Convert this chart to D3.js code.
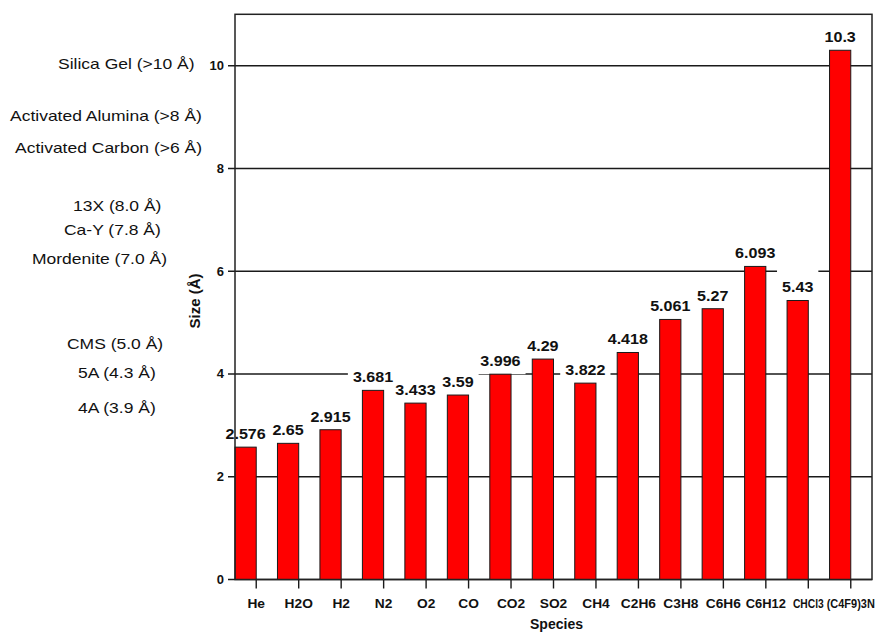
<!DOCTYPE html>
<html><head><meta charset="utf-8">
<script src="https://cdn.jsdelivr.net/npm/d3@7"></script>
<style>body{margin:0;background:#fff}svg{display:block}</style>
</head><body>
<svg id="chart" width="880" height="633"></svg>
<script>
// ---- data ----
const species = ["He","H2O","H2","N2","O2","CO","CO2","SO2","CH4","C2H6","C3H8","C6H6","C6H12","CHCl3","(C4F9)3N"];
const sizes = [2.576,2.65,2.915,3.681,3.433,3.59,3.996,4.29,3.822,4.418,5.061,5.27,6.093,5.43,10.3];
const sizeLabels = ["2.576","2.65","2.915","3.681","3.433","3.59","3.996","4.29","3.822","4.418","5.061","5.27","6.093","5.43","10.3"];
const yTicks = [0,2,4,6,8,10];
const adsorbents = ["Silica Gel (>10 Å)","Activated Alumina (>8 Å)","Activated Carbon (>6 Å)","13X (8.0 Å)","Ca-Y (7.8 Å)","Mordenite (7.0 Å)","CMS (5.0 Å)","5A (4.3 Å)","4A (3.9 Å)"];
const yTitle = "Size (Å)";
const xTitle = "Species";

// ---- layout (not data) ----
const adsorbentLayout = [[58,64],[10,116],[15,148],[73,206],[64,230],[32,259],[67,344],[78,373],[78,408]];
const plot = {left:235, right:872, top:14.3, bottom:579.5};
const FONT = "'Liberation Sans', Arial, Helvetica, sans-serif";
const INK = "#111";

const svg = d3.select("#chart");
const x = d3.scaleBand().domain(species).range([plot.left, plot.right]).padding(0);
const y = d3.scaleLinear().domain([0, 11]).range([plot.bottom, plot.top]);
const bw = x.bandwidth();
const barW = bw * 0.5;
const cx = d => x(d) + bw / 2;

const gridG = svg.append("g");
const bgG = svg.append("g");
const barG = svg.append("g");
const txG = svg.append("g");

// gridlines + y ticks
gridG.selectAll("line").data(yTicks).join("line")
  .attr("x1", plot.left - 7).attr("x2", plot.right)
  .attr("y1", d => y(d)).attr("y2", d => y(d))
  .attr("stroke", "#1a1a1a").attr("stroke-width", 1.4);

// y tick labels
svg.append("g").selectAll("text").data(yTicks).join("text")
  .attr("x", plot.left - 11).attr("y", d => y(d) + 4.5)
  .attr("text-anchor", "end")
  .attr("font-family", FONT).attr("font-weight", "bold").attr("font-size", 13)
  .attr("fill", INK).text(d => d);

const rows = species.map((s, i) => ({s, v: sizes[i], t: sizeLabels[i]}));

// bars
barG.selectAll("rect").data(rows).join("rect")
  .attr("x", d => cx(d.s) - barW).attr("width", barW)
  .attr("y", d => y(d.v)).attr("height", d => y(0) - y(d.v))
  .attr("fill", "#ff0000").attr("stroke", "#1a1a1a").attr("stroke-width", 1);

// value labels (with white backgrounds that mask gridlines)
const labelSX = 1.15;
rows.forEach(r => {
  const bx = cx(r.s) - barW / 2;
  const top = y(r.v);
  const base = top - 8;
  const g = txG.append("g").attr("transform", `translate(${bx},${base}) scale(${labelSX},1)`);
  const t = g.append("text").attr("text-anchor", "middle")
    .attr("font-family", FONT).attr("font-weight", "bold").attr("font-size", 14)
    .attr("fill", INK).text(r.t);
  const w = t.node().getComputedTextLength() * labelSX;
  const bottom = Math.max(top, base + 8);
  bgG.append("rect").attr("x", bx - w / 2 - 5).attr("width", w + 10)
    .attr("y", base - 25).attr("height", bottom - (base - 25))
    .attr("fill", "#fff");
});

// plot border
svg.append("rect").attr("x", plot.left).attr("y", plot.top)
  .attr("width", plot.right - plot.left).attr("height", plot.bottom - plot.top)
  .attr("fill", "none").attr("stroke", "#222").attr("stroke-width", 1.5);

// x ticks
svg.append("g").selectAll("line").data(species).join("line")
  .attr("x1", d => cx(d)).attr("x2", d => cx(d))
  .attr("y1", plot.bottom).attr("y2", plot.bottom + 9)
  .attr("stroke", "#1a1a1a").attr("stroke-width", 1.4);

// x tick labels (condensed where neighbours would collide)
const xlG = svg.append("g");
const xl = species.map(s => {
  const g = xlG.append("g");
  const t = g.append("text").attr("text-anchor", "middle")
    .attr("font-family", FONT).attr("font-weight", "bold").attr("font-size", 12.5)
    .attr("fill", INK).text(s);
  return {s, g, w: t.node().getComputedTextLength(), sx: 1.1};
});
for (let i = 0; i < xl.length - 1; i++) {
  const a = xl[i], b = xl[i + 1];
  const need = (a.w * a.sx + b.w * b.sx) / 2;
  const avail = bw - 3;
  if (need > avail) { const f = avail / need; a.sx *= f; b.sx *= f; }
}
xl.forEach(o => o.g.attr("transform", `translate(${cx(o.s)},608) scale(${o.sx},1)`));

// axis titles
svg.append("text").attr("x", (plot.left + plot.right) / 2 + 3).attr("y", 629)
  .attr("text-anchor", "middle").attr("font-family", FONT).attr("font-weight", "bold")
  .attr("font-size", 14).attr("fill", INK).text(xTitle);
svg.append("text").attr("transform", `translate(200,${(plot.top + plot.bottom) / 2 + 4}) rotate(-90)`)
  .attr("text-anchor", "middle").attr("font-family", FONT).attr("font-weight", "bold")
  .attr("font-size", 15).attr("fill", INK).text(yTitle);

// adsorbent annotations
adsorbents.forEach((a, i) => {
  const [ax, ay] = adsorbentLayout[i];
  svg.append("g").attr("transform", `translate(${ax},${ay + 5}) scale(1.25,1)`)
    .append("text").attr("font-family", FONT).attr("font-size", 14)
    .attr("fill", INK).text(a);
});
</script>
</body></html>
